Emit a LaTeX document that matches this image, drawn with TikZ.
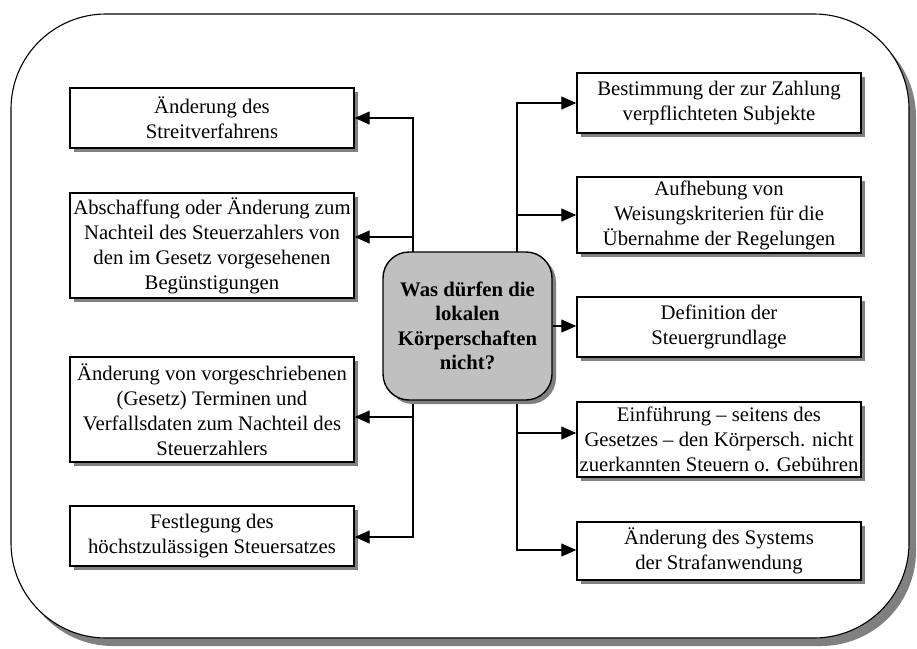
\documentclass[tikz,border=0pt]{standalone}
\usepackage{fontspec}
\setmainfont{Liberation Serif}
\usetikzlibrary{arrows.meta,shadows}

\definecolor{shade}{RGB}{128,128,128}
\definecolor{hubfill}{RGB}{192,192,192}

\begin{document}
\begin{tikzpicture}[x=1pt,y=-1pt,
  txt/.style={font=\fontsize{20.7}{25}\selectfont},
  box/.style={txt, draw=black, line width=1.4pt, fill=white, align=center,
    inner sep=0pt, minimum width=284pt,
    drop shadow={shadow xshift=4pt, shadow yshift=-4pt, fill=shade, opacity=1}},
  hub/.style={font=\fontsize{20.7}{24.5}\selectfont, draw=black, line width=1.4pt,
    fill=hubfill, align=center,
    rounded corners=26pt, inner sep=0pt, minimum width=169pt, minimum height=148pt,
    drop shadow={shadow xshift=4pt, shadow yshift=-4pt, fill=shade, opacity=1}},
  arr/.style={line width=1.3pt, -{Triangle[length=15pt,width=13pt]}},
  wire/.style={line width=1.3pt}
]
\useasboundingbox (0,0) rectangle (917,648);

% outer frame
\draw[line width=1.1pt, fill=white, rounded corners=95pt,
  drop shadow={shadow xshift=7pt, shadow yshift=-8pt, fill=shade, opacity=1}]
  (11,14) rectangle (909,638);

% left column
\node[box, minimum height=60pt]  (L1) at (212,118)   {Änderung des\\Streitverfahrens};
\node[box, minimum height=105pt] (L2) at (212,245.5) {Abschaffung oder Änderung zum\\Nachteil des Steuerzahlers von\\den im Gesetz vorgesehenen\\Begünstigungen};
\node[box, minimum height=105pt] (L3) at (212,409.5) {Änderung von vorgeschriebenen\\(Gesetz) Terminen und\\Verfallsdaten zum Nachteil des\\Steuerzahlers};
\node[box, minimum height=60pt]  (L4) at (212,536)   {Festlegung des\\höchstzulässigen Steuersatzes};

% right column
\node[box, minimum height=60pt] (R1) at (719,103)   {Bestimmung der zur Zahlung\\verpflichteten Subjekte};
\node[box, minimum height=76pt] (R2) at (719,215)   {Aufhebung von\\Weisungskriterien für die\\Übernahme der Regelungen};
\node[box, minimum height=60pt] (R3) at (719,327)   {Definition der\\Steuergrundlage};
\node[box, minimum height=75pt] (R4) at (719,439.5) {Einführung – seitens des\\Gesetzes – den Körpersch. nicht\\zuerkannten Steuern o. Gebühren};
\node[box, minimum height=58pt] (R5) at (719,551)   {Änderung des Systems\\der Strafanwendung};

% branch points on the two trunks
\coordinate (l1) at (413,118);
\coordinate (l2) at (413,237);
\coordinate (l3) at (413,417);
\coordinate (l4) at (413,537);
\coordinate (r1) at (517,103);
\coordinate (r2) at (517,215);
\coordinate (r4) at (517,433);
\coordinate (r5) at (517,550);

% trunks with their end arrows
\draw[arr] (l2) -- (l1) -- (l1 -| L1.east);
\draw[arr] (l3) -- (l4) -- (l4 -| L4.east);
\draw[wire] (l2) -- (l3);
\draw[arr] (l2) -- (l2 -| L2.east);
\draw[arr] (l3) -- (l3 -| L3.east);

\draw[arr] (r2) -- (r1) -- (r1 -| R1.west);
\draw[arr] (r4) -- (r5) -- (r5 -| R5.west);
\draw[wire] (r2) -- (r4);
\draw[arr] (r2) -- (r2 -| R2.west);
\draw[arr] (r4) -- (r4 -| R4.west);

% central question
\node[hub] (C) at (467.5,326) {\textbf{Was dürfen die}\\\textbf{lokalen}\\\textbf{Körperschaften}\\\textbf{nicht?}};
\draw[arr] (C.east) -- (C.east -| R3.west);
\end{tikzpicture}
\end{document}
